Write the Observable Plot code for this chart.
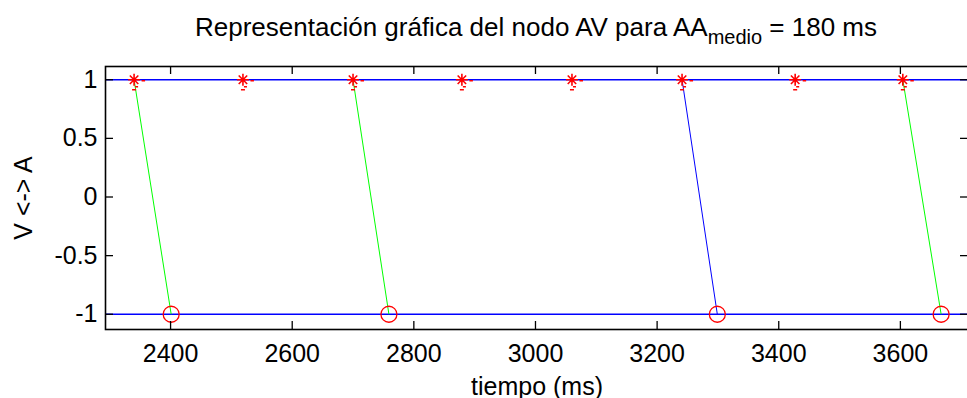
<!DOCTYPE html>
<html>
<head>
<meta charset="utf-8">
<script src="https://cdn.jsdelivr.net/npm/d3@7"></script>
<script src="https://cdn.jsdelivr.net/npm/@observablehq/plot@0.6"></script>
<style>
  body { margin: 0; background: #fff; overflow: hidden; }
  #chart svg { display: block; }
</style>
</head>
<body>
<div id="chart"></div>
<script>
// Activaciones auriculares (A, nivel 1) y ventriculares (V, nivel -1), en ms
const atrialLevel = 1;
const ventricularLevel = -1;
const atrialTimes = [2340, 2519, 2700, 2879, 3060, 3241, 3427, 3604];
const conductedFrom = [2340, 2700, 3241, 3604];
const ventricularTimes = [2401, 2759, 3299, 3667];
const conductionPath = ["vía 1", "vía 1", "vía 2", "vía 1"];

// Ejes
const xDomain = [2293, 3712];
const yDomain = [-1.13, 1.113];
const xTicks = [2400, 2600, 2800, 3000, 3200, 3400, 3600];
const yTicks = [-1, -0.5, 0, 0.5, 1];

const titleMain = "Representación gráfica del nodo AV para AA";
const titleSub = "medio";
const titleEnd = " = 180 ms";
const xLabel = "tiempo (ms)";
const yLabel = "V <-> A";

const conductions = conductedFrom.map((x1, i) => ({
  x1, x2: ventricularTimes[i], path: conductionPath[i]
}));

const W = 967, H = 398;
const mL = 105, mR = -1, mT = 66, mB = 69;
const innerW = W - mL - mR, innerH = H - mT - mB;
const tickLen = 8;
const font = "'Liberation Sans', Arial, Helvetica, sans-serif";

// Marcador '*' de 8 brazos, con los pequeños trazos que lo acompañan
const asterisk = {
  draw(ctx, size) {
    const r = Math.sqrt(size / Math.PI);
    const d = r * Math.SQRT1_2;
    ctx.moveTo(-r, 0); ctx.lineTo(r, 0);
    ctx.moveTo(0, -r); ctx.lineTo(0, r);
    ctx.moveTo(-d, -d); ctx.lineTo(d, d);
    ctx.moveTo(-d, d); ctx.lineTo(d, -d);
    ctx.moveTo(r + 1.5, 1); ctx.lineTo(r + 5, 1);
    ctx.moveTo(1, r + 1); ctx.lineTo(4, r + 1);
    ctx.moveTo(-2, r + 4); ctx.lineTo(2, r + 4);
  }
};

const plot = Plot.plot({
  width: W,
  height: H,
  marginLeft: mL,
  marginRight: mR,
  marginTop: mT,
  marginBottom: mB,
  style: { fontFamily: font, background: "#fff" },
  x: { domain: xDomain, axis: null },
  y: { domain: yDomain, axis: null },
  color: { domain: ["vía 1", "vía 2"], range: ["#00ff00", "#0000ff"] },
  marks: [
    Plot.ruleY([atrialLevel, ventricularLevel], { stroke: "#0000ff", strokeWidth: 1.3 }),
    Plot.link(conductions, {
      x1: "x1", y1: atrialLevel, x2: "x2", y2: ventricularLevel,
      stroke: "path", strokeWidth: 1
    }),
    Plot.dot(atrialTimes, {
      x: d => d, y: atrialLevel, symbol: asterisk, r: 6,
      stroke: "#ff0000", fill: "none", strokeWidth: 1.6
    }),
    Plot.dot(ventricularTimes, {
      x: d => d, y: ventricularLevel, r: 8,
      stroke: "#ff0000", fill: "none", strokeWidth: 1.3
    }),
    // marcas de graduación hacia dentro en los cuatro lados
    Plot.tickX(xTicks, { x: d => d, insetTop: innerH - tickLen, stroke: "#000", strokeWidth: 1.3 }),
    Plot.tickX(xTicks, { x: d => d, insetBottom: innerH - tickLen, stroke: "#000", strokeWidth: 1.3 }),
    Plot.tickY(yTicks, { y: d => d, insetRight: innerW - tickLen, stroke: "#000", strokeWidth: 1.3 }),
    Plot.tickY(yTicks, { y: d => d, insetLeft: innerW - tickLen, stroke: "#000", strokeWidth: 1.3 }),
    Plot.frame({ stroke: "#000", strokeWidth: 1.6 }),
    Plot.axisX(xTicks, {
      anchor: "bottom", tickSize: 0, tickPadding: 15, fontSize: 25,
      tickFormat: d => String(d), label: null, fill: "#000"
    }),
    Plot.axisY(yTicks, {
      anchor: "left", tickSize: 0, tickPadding: 8, fontSize: 25,
      tickFormat: d => String(d), label: null, fill: "#000"
    }),
    Plot.text([xLabel], {
      text: d => d, frameAnchor: "bottom", textAnchor: "middle",
      dy: 65, fontSize: 25, fill: "#000"
    }),
    Plot.text([yLabel], {
      text: d => d, frameAnchor: "left", textAnchor: "middle",
      dx: -82, rotate: -90, fontSize: 25, fill: "#000"
    })
  ]
});

// Título con subíndice
const svg = d3.select(plot);
const title = svg.append("text")
  .attr("x", mL + (W - mL) / 2)
  .attr("y", 36)
  .attr("text-anchor", "middle")
  .attr("font-family", font)
  .attr("font-size", 26)
  .attr("fill", "#000");
title.append("tspan").text(titleMain);
title.append("tspan").attr("dy", 8).attr("font-size", 20).text(titleSub);
title.append("tspan").attr("dy", -8).text(titleEnd);

document.getElementById("chart").appendChild(plot);
</script>
</body>
</html>
